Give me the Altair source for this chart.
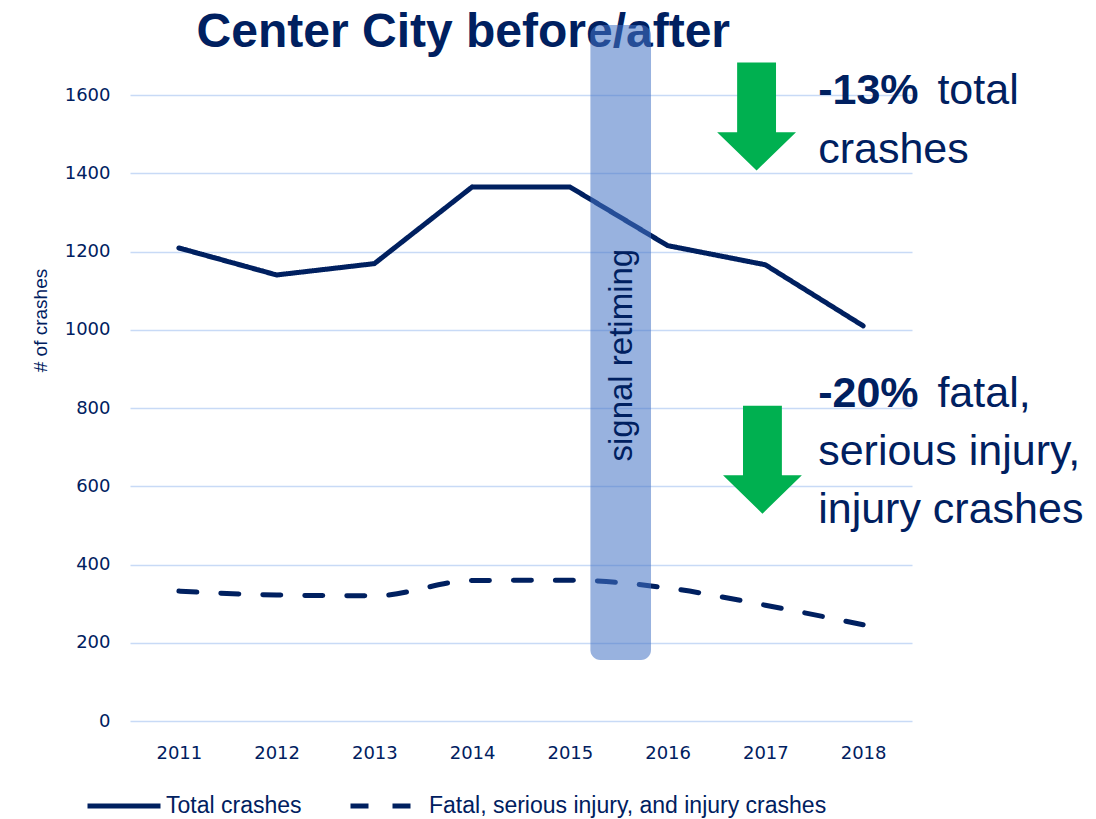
import altair as alt
import pandas as pd

# ---- data ----
years = [2011, 2012, 2013, 2014, 2015, 2016, 2017, 2018]
total_crashes = [1209, 1140, 1169, 1365, 1365, 1215, 1166, 1010]
injury_crashes = [332, 322, 320, 359, 360, 340, 296, 246]
series_names = ["Total crashes", "Fatal, serious injury, and injury crashes"]
y_ticks = [0, 200, 400, 600, 800, 1000, 1200, 1400, 1600]

# chart title (placed in year / crash units)
title_text = ["Center City before/after"]
title_x = [2013.91]
title_y = [1723]

# signal retiming band (in year / crash units)
band_x = [2015.21]
band_x2 = [2015.83]
band_y = [156]
band_y2 = [1779]
band_label = ["signal retiming"]
band_label_x = [2015.53]
band_label_y = [935]

# arrows
arrow_x = [2016.91, 2016.97]
arrow_y = [1545, 668]

# annotations
bold_text = ["-13%", "-20%"]
bold_x = [2017.54, 2017.54]
bold_y = [1577, 803]
norm_text = ["total", "crashes", "fatal,", "serious injury,", "injury crashes"]
norm_x = [2018.76, 2017.54, 2018.76, 2017.54, 2017.54]
norm_y = [1577, 1426, 803, 654, 506]

NAVY = "#002060"
GRID = "#C8DAF6"
FONT = "Liberation Sans"

df_total = pd.DataFrame({"year": years, "crashes": total_crashes, "series": series_names[0]})
df_inj = pd.DataFrame({"year": years, "crashes": injury_crashes, "series": series_names[1]})
df_title = pd.DataFrame({"x": title_x, "y": title_y, "t": title_text})
df_band = pd.DataFrame({"x0": band_x, "x1": band_x2, "y0": band_y, "y1": band_y2})
df_band_label = pd.DataFrame({"x": band_label_x, "y": band_label_y, "t": band_label})
df_arrow = pd.DataFrame({"x": arrow_x, "y": arrow_y})
df_bold = pd.DataFrame({"x": bold_x, "y": bold_y, "t": bold_text})
df_norm = pd.DataFrame({"x": norm_x, "y": norm_y, "t": norm_text})

x_scale = alt.Scale(domain=[2010.5, 2018.5], nice=False, zero=False)
y_scale = alt.Scale(domain=[0, 1600], nice=False)

x_axis = alt.Axis(values=years, format="d", title=None, grid=False, domain=False,
                  ticks=False, labelPadding=23, labelFontSize=18, labelFont="DejaVu Sans",
                  labelColor=NAVY)
y_axis = alt.Axis(values=y_ticks, format="d", title="# of crashes", grid=True, gridColor=GRID,
                  gridWidth=1.5, domain=False, ticks=False, labelPadding=20,
                  labelFontSize=18, labelFont="DejaVu Sans", labelColor=NAVY,
                  titleFont=FONT, titleFontSize=19, titleFontWeight="normal",
                  titleColor=NAVY, titleX=-90, titleY=225, titleAlign="center",
                  titleBaseline="middle", titleAngle=270)


def X(f):
    return alt.X(f"{f}:Q", scale=x_scale, axis=x_axis)


def Y(f):
    return alt.Y(f"{f}:Q", scale=y_scale, axis=y_axis)


dash_scale = alt.Scale(domain=series_names, range=[[1, 0], [18, 24]])
legend = alt.Legend(title=None, orient="none", legendX=-45, legendY=672,
                    direction="horizontal", symbolType="stroke", symbolSize=5329,
                    symbolStrokeWidth=5, symbolStrokeColor=NAVY, labelFont=FONT,
                    labelFontSize=23, labelColor=NAVY, labelOffset=3,
                    columnPadding=38, labelLimit=700)

title_mark = alt.Chart(df_title).mark_text(align="center", baseline="alphabetic", font=FONT,
                                           fontSize=48, fontWeight="bold", color=NAVY).encode(
    x=X("x"), y=Y("y"), text="t:N"
)

line_total = alt.Chart(df_total).mark_line(color=NAVY, strokeWidth=5, strokeCap="round").encode(
    x=X("year"), y=Y("crashes"),
    strokeDash=alt.StrokeDash("series:N", scale=dash_scale, legend=legend),
)
line_inj = alt.Chart(df_inj).mark_line(color=NAVY, strokeWidth=5, strokeCap="round",
                                       interpolate="monotone").encode(
    x=X("year"), y=Y("crashes"),
    strokeDash=alt.StrokeDash("series:N", scale=dash_scale, legend=legend),
)

band = alt.Chart(df_band).mark_rect(color="#4472C4", opacity=0.55, cornerRadius=10).encode(
    x=X("x0"), x2="x1", y=Y("y0"), y2="y1"
)
band_text = alt.Chart(df_band_label).mark_text(angle=270, align="center", baseline="middle",
                                               font=FONT, fontSize=33, color=NAVY).encode(
    x=X("x"), y=Y("y"), text="t:N"
)

arrow_path = "M-0.36,-1L0.36,-1L0.36,0.29L0.73,0.29L0,1L-0.73,0.29L-0.36,0.29Z"
arrows = alt.Chart(df_arrow).mark_point(shape=arrow_path, filled=True, color="#00B050",
                                        opacity=1, size=11664, strokeWidth=0).encode(
    x=X("x"), y=Y("y")
)

bold_ann = alt.Chart(df_bold).mark_text(align="left", baseline="alphabetic", font=FONT,
                                        fontSize=43, fontWeight="bold", color=NAVY).encode(
    x=X("x"), y=Y("y"), text="t:N"
)
norm_ann = alt.Chart(df_norm).mark_text(align="left", baseline="alphabetic", font=FONT,
                                        fontSize=43, color=NAVY).encode(
    x=X("x"), y=Y("y"), text="t:N"
)

chart = alt.layer(title_mark, line_total, line_inj, band, band_text, arrows,
                  bold_ann, norm_ann).properties(
    width=782, height=626,
    autosize=alt.AutoSizeParams(type="none"),
    padding={"left": 130, "top": 95, "right": 184, "bottom": 98},
    background="white",
).configure_view(stroke=None)

chart.save("out.html", embed_options={"renderer": "svg", "actions": False})
